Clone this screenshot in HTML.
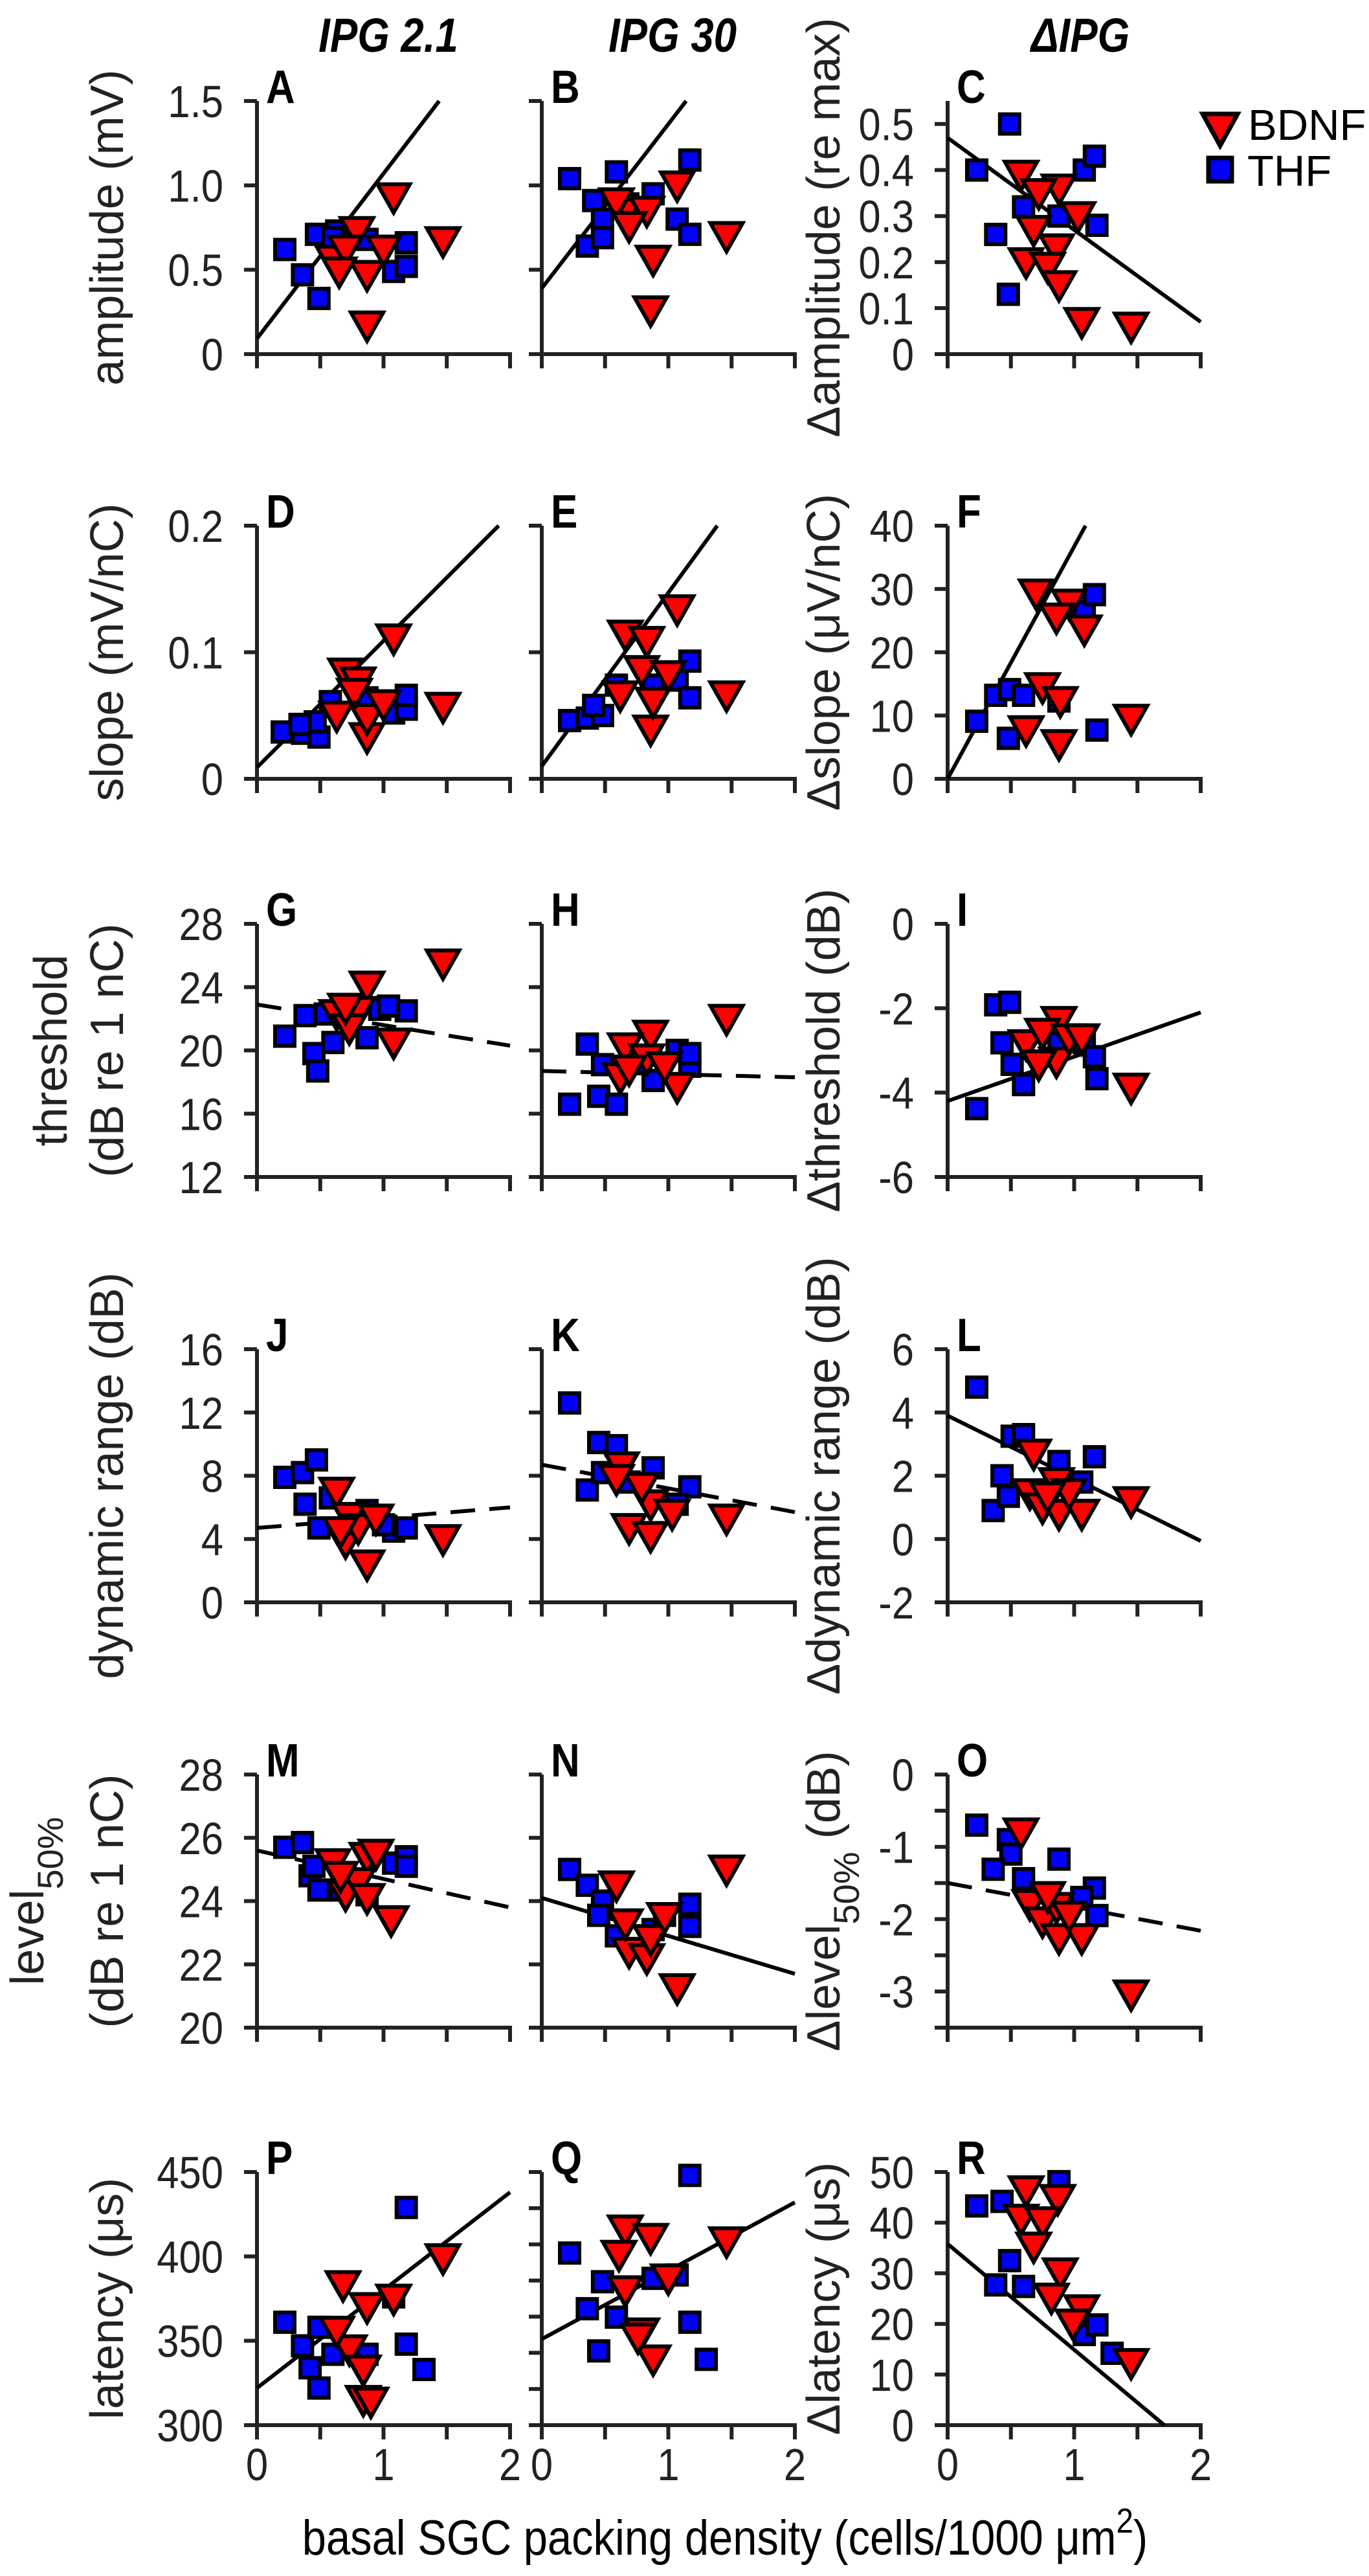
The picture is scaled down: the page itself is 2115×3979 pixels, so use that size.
<!DOCTYPE html>
<html><head><meta charset="utf-8"><style>
html,body{margin:0;padding:0;background:#fff;}
svg{display:block;font-family:"Liberation Sans",Arial,sans-serif;}
</style></head><body>
<svg id="fig" width="2115" height="3979" viewBox="0 0 2115 3979" xmlns="http://www.w3.org/2000/svg">
<g font-weight="bold" font-style="italic" font-size="74">
<text transform="translate(600,80) scale(0.86,1)" text-anchor="middle">IPG 2.1</text>
<text transform="translate(1039,80) scale(0.86,1)" text-anchor="middle">IPG 30</text>
<text transform="translate(1669,80) scale(0.86,1)" text-anchor="middle">ΔIPG</text>
</g>
<g>
<polygon points="1858,176 1912,176 1885,225" fill="#ff0000" stroke="#000" stroke-width="7"/>
<text x="1928" y="216" font-size="67">BDNF</text>
<rect x="1867" y="244" width="36" height="36" fill="#0000ff" stroke="#000" stroke-width="7"/>
<text x="1927" y="287" font-size="67">THF</text>
</g>
<text transform="translate(1120,3946) scale(0.88,1)" text-anchor="middle" font-size="76">basal SGC packing density (cells/1000 μm<tspan dy="-34" font-size="54">2</tspan><tspan dy="34">)</tspan></text>
<g id="panels"></g>
</svg>
<script>
// ---- data (x: basal SGC packing density) ----
const aThfX=[0.22,0.36,0.49,0.47,0.63,0.87,1.08,1.18,1.18,0.6];
const aThfY=[0.62,0.47,0.33,0.71,0.73,0.68,0.49,0.52,0.66,0.69];
const aBdX=[1.08,1.47,0.87,0.87,0.6,0.79,1.0,0.7,0.65];
const aBdY=[0.93,0.67,0.17,0.47,0.56,0.73,0.62,0.62,0.49];
const aFit=[0.092,0.978];
const bThfX=[0.22,0.59,0.41,0.48,0.36,0.48,0.88,1.07,1.17,1.17,0.68];
const bThfY=[1.04,1.08,0.91,0.80,0.64,0.69,0.95,0.80,0.71,1.15,0.89];
const bBdX=[1.07,1.46,0.88,0.86,0.66,0.83,0.59,0.69];
const bBdY=[1.0,0.70,0.56,0.26,0.84,0.85,0.9,0.76];
const bFit=[0.39,0.973];
const cThfX=[0.23,0.49,0.6,0.38,0.48,0.88,1.08,1.16,1.18];
const cThfY=[0.40,0.50,0.32,0.26,0.13,0.30,0.40,0.43,0.28];
const cBdX=[0.58,0.88,0.72,1.03,0.68,0.86,0.62,0.79,0.88,1.06,1.45];
const cBdY=[0.39,0.36,0.35,0.30,0.27,0.23,0.20,0.19,0.15,0.07,0.06];
const cFit=[0.47,-0.2];
const dThfX=[0.2,0.36,0.49,0.46,0.58,0.87,1.08,1.18,1.18,0.34];
const dThfY=[0.037,0.036,0.033,0.045,0.061,0.064,0.052,0.055,0.066,0.043];
const dBdX=[1.08,1.47,0.87,0.87,0.7,0.8,0.77,0.63,1.0];
const dBdY=[0.111,0.057,0.033,0.048,0.084,0.077,0.068,0.05,0.059];
const dFit=[0.009,0.1];
const eThfX=[0.22,0.36,0.48,0.41,0.59,0.88,1.07,1.17,1.17];
const eThfY=[0.046,0.048,0.05,0.058,0.074,0.074,0.078,0.093,0.064];
const eBdX=[1.07,0.66,0.83,0.79,0.86,0.88,0.62,1.46,1.0];
const eBdY=[0.134,0.114,0.109,0.086,0.039,0.061,0.066,0.066,0.082];
const eFit=[0.01,0.137];
const fThfX=[0.23,0.38,0.49,0.6,0.48,0.88,1.08,1.16,1.18];
const fThfY=[9.1,13.2,14.1,13.2,6.4,12.3,26.4,29.1,7.7];
const fBdX=[0.7,0.96,0.86,1.08,0.62,0.88,0.75,0.89,1.45];
const fBdY=[29.3,27.7,25.5,23.6,7.7,5.5,14.5,12.3,9.5];
const fFit=[0,36.7];
const gThfX=[0.22,0.38,0.45,0.48,0.6,0.54,0.87,0.97,1.18,1.04];
const gThfY=[20.9,22.2,19.8,18.7,20.5,22.3,20.8,22.6,22.5,22.8];
const gBdX=[0.87,1.47,1.08,0.63,0.8,0.73,0.7];
const gBdY=[24.1,25.5,20.5,22.3,22.5,21.4,22.7];
const gFit=[22.9,-1.3];
const hThfX=[0.22,0.36,0.45,0.59,0.48,0.88,1.07,1.17,1.17,0.76];
const hThfY=[16.6,20.4,17.1,16.6,19.1,18.1,20.0,19.0,19.8,19.2];
const hBdX=[0.86,1.46,0.66,0.62,1.07,0.83,0.69,0.97];
const hBdY=[21.0,22.0,20.2,18.3,17.7,19.5,18.8,19.0];
const hFit=[18.7,-0.2];
const iThfX=[0.23,0.38,0.49,0.43,0.51,0.6,0.88,1.08,1.16,1.18];
const iThfY=[-4.38,-1.92,-1.86,-2.82,-3.33,-3.81,-2.82,-2.82,-3.15,-3.67];
const iBdX=[0.88,1.45,0.62,0.75,0.86,0.96,0.72,1.06];
const iBdY=[-2.3,-3.88,-2.85,-2.58,-3.26,-2.71,-3.33,-2.71];
const iFit=[-4.2,1.05];
const jThfX=[0.22,0.36,0.47,0.38,0.58,0.49,0.87,1.08,1.18,1.0];
const jThfY=[7.9,8.2,9.0,6.2,6.6,4.7,5.8,4.5,4.7,4.9];
const jBdX=[0.87,0.7,1.47,0.63,0.73,0.8,0.94,0.66];
const jBdY=[2.4,3.8,4.0,7.0,5.4,4.7,5.3,4.5];
const jFit=[4.7,0.65];
const kThfX=[0.22,0.45,0.59,0.36,0.48,0.88,1.17,1.07,0.69];
const kThfY=[12.6,10.1,9.9,7.1,8.2,8.5,7.3,6.2,7.6];
const kBdX=[0.63,0.86,0.69,0.86,1.46,1.03,0.79,0.59];
const kBdY=[8.6,6.2,4.7,4.2,5.3,5.6,7.3,7.8];
const kFit=[8.7,-1.5];
const lThfX=[0.23,0.51,0.6,0.43,0.36,0.48,0.88,1.16,1.06];
const lThfY=[4.8,3.25,3.3,2.0,0.9,1.35,2.45,2.6,1.8];
const lBdX=[0.68,0.65,0.75,0.88,1.06,0.86,1.45,0.96,0.79];
const lBdY=[2.7,1.45,1.0,0.8,0.8,1.8,1.2,1.45,1.35];
const lFit=[3.9,-1.98];
const mThfX=[0.22,0.36,0.42,0.49,0.66,0.87,1.08,1.18,1.18,0.45];
const mThfY=[25.7,25.85,24.8,24.35,24.35,24.2,25.2,25.4,25.1,25.1];
const mBdX=[0.87,1.06,0.7,0.6,0.8,0.94,0.66,0.87];
const mBdY=[25.4,23.4,24.2,25.2,24.6,25.5,24.8,24.1];
const mFit=[25.6,-0.9];
const nThfX=[0.22,0.36,0.48,0.45,0.59,0.88,1.17,1.17,0.97];
const nThfY=[25.0,24.5,24.0,23.55,22.9,23.1,23.9,23.2,23.55];
const nBdX=[1.46,0.59,1.07,0.69,0.83,0.86,0.66,0.97];
const nBdY=[25.0,24.5,21.25,22.4,22.2,22.8,23.3,23.5];
const nFit=[24.1,-1.2];
const oThfX=[0.23,0.48,0.5,0.88,0.36,0.6,1.16,1.06,1.18];
const oThfY=[-0.7,-0.9,-1.1,-1.17,-1.31,-1.44,-1.57,-1.7,-1.95];
const oBdX=[0.58,1.45,0.65,0.75,0.88,1.06,0.86,0.96,0.79];
const oBdY=[-0.8,-3.04,-1.79,-2.03,-2.26,-2.26,-1.83,-1.95,-1.68];
const oFit=[-1.5,-0.33];
const pThfX=[0.22,0.36,0.49,0.42,0.49,0.6,0.87,1.08,1.18,1.18,1.32];
const pThfY=[361,347,358,334,322,342,342,376,429,348,333];
const pBdX=[0.68,1.47,0.84,0.9,0.87,1.08,0.73,0.84,0.63];
const pBdY=[383,399,315,314,370,375,345,333,356];
const pFit=[322,58];
const qThfX=[0.22,0.48,0.36,0.59,0.45,0.88,1.07,1.17,1.17,1.3];
const qThfY=[402,385,369,364,344,387,389,361,448,339];
const qBdX=[0.66,0.86,0.61,1.46,0.66,0.79,0.88,0.76,1.0];
const qBdY=[416,411,401,409,380,355,339,352,387];
const qFit=[351,40.5];
const rThfX=[0.23,0.43,0.49,0.38,0.6,0.88,1.08,1.18,1.3];
const rThfY=[43.3,44.2,32.5,27.7,27.4,48.1,17.9,19.8,14.2];
const rBdX=[0.62,0.87,0.58,0.75,0.68,0.89,0.82,1.06,0.99,1.45];
const rBdY=[46.4,44.7,40.8,40.3,35.3,30.2,25.2,22.9,20.1,12.3];
const rFit=[35.8,-20.9];

// tick arrays
const ticksA=[0,0.5,1,1.5], labelsA=["0","0.5","1.0","1.5"];
const ticksC=[0,0.1,0.2,0.3,0.4,0.5], labelsC=["0","0.1","0.2","0.3","0.4","0.5"];
const ticksD=[0,0.1,0.2], labelsD=["0","0.1","0.2"];
const ticksF=[0,10,20,30,40], labelsF=["0","10","20","30","40"];
const ticksG=[12,16,20,24,28], labelsG=["12","16","20","24","28"];
const ticksI=[-6,-4,-2,0], labelsI=["-6","-4","-2","0"];
const ticksJ=[0,4,8,12,16], labelsJ=["0","4","8","12","16"];
const ticksL=[-2,0,2,4,6], labelsL=["-2","0","2","4","6"];
const ticksM=[20,22,24,26,28], labelsM=["20","22","24","26","28"];
const ticksO=[-3.5,-3,-2.5,-2,-1.5,-1,-0.5,0], labelsO=["","-3","","-2","","-1","","0"];
const ticksP=[300,350,400,450], labelsP=["300","350","400","450"];
const ticksQ=[300,321.43,342.86,364.29,385.71,407.14,428.57,450];
const ticksR=[0,10,20,30,40,50], labelsR=["0","10","20","30","40","50"];
const xTicks=[0,0.5,1,1.5,2], xTickLabels=["0","","1","","2"];

const colX=[397,837,1464];
const rowY=[156,812,1427,2084,2741,3355];
const W=391,H=391;
const NS="http://www.w3.org/2000/svg";
const root=document.getElementById('panels');

function mk(tag,attrs,parent){const e=document.createElementNS(NS,tag);for(const k in attrs)e.setAttribute(k,attrs[k]);(parent||root).appendChild(e);return e;}

const panels=[
 {L:'A',c:0,r:0,yr:[0,1.5],t:ticksA,tl:labelsA,tx:aThfX,ty:aThfY,bx:aBdX,by:aBdY,fit:aFit,dash:false},
 {L:'B',c:1,r:0,yr:[0,1.5],t:ticksA,tl:null,tx:bThfX,ty:bThfY,bx:bBdX,by:bBdY,fit:bFit,dash:false},
 {L:'C',c:2,r:0,yr:[0,0.55],t:ticksC,tl:labelsC,tx:cThfX,ty:cThfY,bx:cBdX,by:cBdY,fit:cFit,dash:false},
 {L:'D',c:0,r:1,yr:[0,0.2],t:ticksD,tl:labelsD,tx:dThfX,ty:dThfY,bx:dBdX,by:dBdY,fit:dFit,dash:false},
 {L:'E',c:1,r:1,yr:[0,0.2],t:ticksD,tl:null,tx:eThfX,ty:eThfY,bx:eBdX,by:eBdY,fit:eFit,dash:false},
 {L:'F',c:2,r:1,yr:[0,40],t:ticksF,tl:labelsF,tx:fThfX,ty:fThfY,bx:fBdX,by:fBdY,fit:fFit,dash:false},
 {L:'G',c:0,r:2,yr:[12,28],t:ticksG,tl:labelsG,tx:gThfX,ty:gThfY,bx:gBdX,by:gBdY,fit:gFit,dash:true},
 {L:'H',c:1,r:2,yr:[12,28],t:ticksG,tl:null,tx:hThfX,ty:hThfY,bx:hBdX,by:hBdY,fit:hFit,dash:true},
 {L:'I',c:2,r:2,yr:[-6,0],t:ticksI,tl:labelsI,tx:iThfX,ty:iThfY,bx:iBdX,by:iBdY,fit:iFit,dash:false},
 {L:'J',c:0,r:3,yr:[0,16],t:ticksJ,tl:labelsJ,tx:jThfX,ty:jThfY,bx:jBdX,by:jBdY,fit:jFit,dash:true},
 {L:'K',c:1,r:3,yr:[0,16],t:ticksJ,tl:null,tx:kThfX,ty:kThfY,bx:kBdX,by:kBdY,fit:kFit,dash:true},
 {L:'L',c:2,r:3,yr:[-2,6],t:ticksL,tl:labelsL,tx:lThfX,ty:lThfY,bx:lBdX,by:lBdY,fit:lFit,dash:false},
 {L:'M',c:0,r:4,yr:[20,28],t:ticksM,tl:labelsM,tx:mThfX,ty:mThfY,bx:mBdX,by:mBdY,fit:mFit,dash:true},
 {L:'N',c:1,r:4,yr:[20,28],t:ticksM,tl:null,tx:nThfX,ty:nThfY,bx:nBdX,by:nBdY,fit:nFit,dash:false},
 {L:'O',c:2,r:4,yr:[-3.5,0],t:ticksO,tl:labelsO,tx:oThfX,ty:oThfY,bx:oBdX,by:oBdY,fit:oFit,dash:true},
 {L:'P',c:0,r:5,yr:[300,450],t:ticksP,tl:labelsP,tx:pThfX,ty:pThfY,bx:pBdX,by:pBdY,fit:pFit,dash:false},
 {L:'Q',c:1,r:5,yr:[300,450],t:ticksQ,tl:null,tx:qThfX,ty:qThfY,bx:qBdX,by:qBdY,fit:qFit,dash:false},
 {L:'R',c:2,r:5,yr:[0,50],t:ticksR,tl:labelsR,tx:rThfX,ty:rThfY,bx:rBdX,by:rBdY,fit:rFit,dash:false}
];

panels.forEach(p=>{
  const x0=colX[p.c], yTop=rowY[p.r], yBot=yTop+H;
  const sx=v=>x0+v/2*W;
  const sy=v=>yBot-(v-p.yr[0])/(p.yr[1]-p.yr[0])*H;
  const g=mk('g',{});
  
  
  // axes
  const ya=mk('line',{x1:x0,y1:yTop,x2:x0,y2:yBot,stroke:'#222','stroke-width':6},g);
  
  
  const xa=mk('line',{x1:x0-20,y1:yBot,x2:x0+W+3,y2:yBot,stroke:'#222','stroke-width':6},g);
  
  
  p.t.forEach((t,i)=>{
    const y=sy(t);
    const tk=mk('line',{x1:x0-20,y1:y,x2:x0,y2:y,stroke:'#222','stroke-width':6},g);
    
    
    if(p.tl&&p.tl[i]){
      const tx=mk('text',{transform:`translate(${x0-52},${y+25}) scale(0.88,1)`,'text-anchor':'end','font-size':70,fill:'#222'},g);
      tx.textContent=p.tl[i];
      
      
    }
  });
  xTicks.forEach((t,i)=>{
    const x=sx(t);
    const tk=mk('line',{x1:x,y1:yBot,x2:x,y2:yBot+22,stroke:'#222','stroke-width':6},g);
    
    
    if(p.r===5&&xTickLabels[i]){
      const tx=mk('text',{transform:`translate(${x},${yBot+85}) scale(0.88,1)`,'text-anchor':'middle','font-size':70,fill:'#222'},g);
      tx.textContent=xTickLabels[i];
      
      
    }
  });
  // fit line clipped
  const a=p.fit[0], b=p.fit[1];
  let xs=0, xe=2;
  if(b!==0){
    const xlo=(p.yr[0]-a)/b, xhi=(p.yr[1]-a)/b;
    const mn=Math.min(xlo,xhi), mx=Math.max(xlo,xhi);
    xs=Math.max(0,mn); xe=Math.min(2,mx);
  }
  const fl=mk('line',{x1:sx(xs),y1:sy(a+b*xs),x2:sx(xe),y2:sy(a+b*xe),stroke:'#000','stroke-width':6},g);
  if(p.dash) fl.setAttribute('stroke-dasharray','38 22');
  
  
  // markers: THF squares, BDNF triangles (drawn in interleaved order)
  p.tx.forEach((v,i)=>{
    const cx=sx(v), cy=sy(p.ty[i]);
    const r=mk('rect',{x:cx-15,y:cy-15,width:30,height:30,fill:'#0000ff',stroke:'#000','stroke-width':6},g);
    
    
  });
  p.bx.forEach((v,i)=>{
    const cx=sx(v), cy=sy(p.by[i]);
    const t=mk('polygon',{points:`${cx-25},${cy-20} ${cx+25},${cy-20} ${cx},${cy+24}`,fill:'#ff0000',stroke:'#000','stroke-width':6,'stroke-linejoin':'miter'},g);
    
    
  });
  const lb=mk('text',{transform:`translate(${x0+14},${yTop+3}) scale(0.86,1)`,'font-size':72,'font-weight':'bold',fill:'#000'},g);
  lb.textContent=p.L;
  
  
});

// y-axis titles
function ytitle(x,cy,html,name){
  const t=mk('text',{transform:`translate(${x},${cy}) rotate(-90)`,'text-anchor':'middle','font-size':72,fill:'#222'});
  t.innerHTML=html;
  
  
}
const mid=r=>rowY[r]+H/2;
ytitle(190,mid(0),'amplitude (mV)','y-title-amplitude');
ytitle(1297,mid(0),'Δamplitude (re max)','y-title-delta-amplitude');
ytitle(190,mid(1),'slope (mV/nC)','y-title-slope');
ytitle(1297,mid(1),'Δslope (μV/nC)','y-title-delta-slope');
ytitle(103,mid(2),'threshold','y-title-threshold');
ytitle(190,mid(2),'(dB re 1 nC)','y-title-threshold-unit');
ytitle(1297,mid(2),'Δthreshold (dB)','y-title-delta-threshold');
ytitle(190,mid(3),'dynamic range (dB)','y-title-dynamic-range');
ytitle(1297,mid(3),'Δdynamic range (dB)','y-title-delta-dynamic-range');
ytitle(67,mid(4),'level<tspan dy="30" font-size="56">50%</tspan>','y-title-level');
ytitle(190,mid(4),'(dB re 1 nC)','y-title-level-unit');
ytitle(1297,mid(4),'Δlevel<tspan dy="30" font-size="56">50%</tspan><tspan dy="-30"> (dB)</tspan>','y-title-delta-level');
ytitle(190,mid(5),'latency (μs)','y-title-latency');
ytitle(1297,mid(5),'Δlatency (μs)','y-title-delta-latency');
</script>
</body></html>
